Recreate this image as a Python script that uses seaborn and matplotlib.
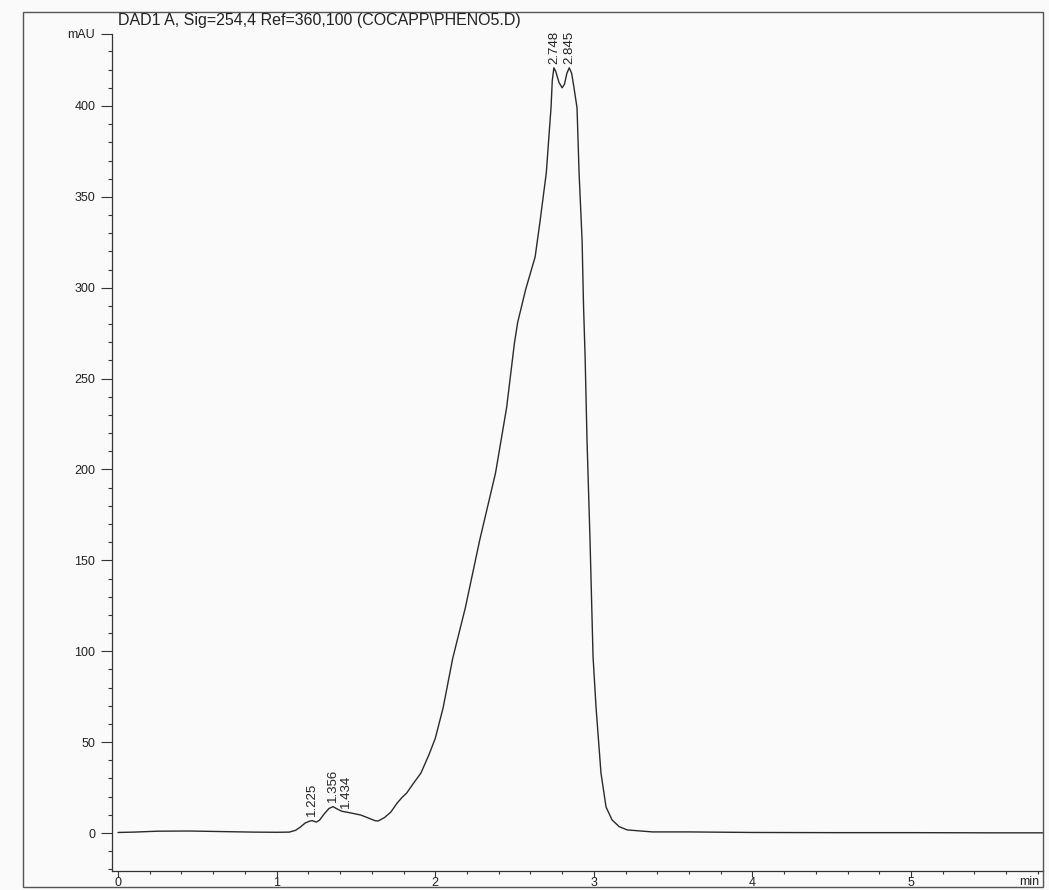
import numpy as np
import matplotlib
matplotlib.use("Agg")
import matplotlib.pyplot as plt
from matplotlib.patches import Rectangle
from matplotlib.ticker import MultipleLocator
import seaborn as sns

# ---- data ----
time_min = [0.00, 0.10, 0.25, 0.45, 0.65, 0.85, 1.00, 1.08, 1.12, 1.15, 1.18, 1.21,
            1.225, 1.25, 1.27, 1.30, 1.33, 1.356, 1.38, 1.41, 1.434, 1.47, 1.53, 1.58,
            1.62, 1.64, 1.68, 1.72, 1.76, 1.79, 1.82, 1.86, 1.91, 1.96, 2.00, 2.05,
            2.11, 2.19, 2.28, 2.38, 2.45, 2.50, 2.52, 2.57, 2.63, 2.66, 2.70, 2.73,
            2.738, 2.748, 2.76, 2.78, 2.80, 2.815, 2.83, 2.845, 2.86, 2.875, 2.894,
            2.907, 2.926, 2.935, 2.945, 2.957, 2.976, 2.995, 3.014, 3.045, 3.077,
            3.115, 3.16, 3.21, 3.37, 3.60, 4.00, 4.50, 5.00, 5.50, 5.83]
signal_mau = [0.3, 0.5, 1.0, 1.1, 0.8, 0.5, 0.4, 0.5, 1.5, 3.3, 5.5, 6.6,
              6.8, 6.0, 7.0, 10.5, 13.5, 14.5, 13.3, 12.0, 11.6, 11.0, 9.9, 8.2,
              6.8, 6.6, 8.5, 11.5, 16.5, 19.5, 22.0, 27.0, 33.0, 43.0, 52.0, 69.0,
              96.0, 124.0, 161.0, 198.0, 234.0, 270.0, 281.0, 299.0, 317.0, 336.0, 363.0, 399.0,
              414.0, 421.0, 419.0, 413.0, 410.0, 412.0, 418.0, 421.0, 418.0, 410.0, 399.0,
              363.0, 326.0, 290.0, 262.0, 216.0, 161.0, 97.0, 69.0, 33.0, 14.3,
              7.2, 3.5, 1.7, 0.6, 0.6, 0.3, 0.2, 0.2, 0.1, 0.1]

peak_times = [1.225, 1.356, 1.434, 2.748, 2.845]
peak_labels = ["1.225", "1.356", "1.434", "2.748", "2.845"]

y_tick_values = [0, 50, 100, 150, 200, 250, 300, 350, 400]
x_tick_values = [0, 1, 2, 3, 4, 5]
title_text = "DAD1 A, Sig=254,4 Ref=360,100 (COCAPP\\PHENO5.D)"

# ---- figure ----
sns.set_style("ticks")
plt.rcParams["font.family"] = ["Liberation Sans", "DejaVu Sans"]

W, H = 1049, 890
fig = plt.figure(figsize=(W / 100, H / 100), dpi=100)
bg = "#fafafa"
fig.patch.set_facecolor(bg)

ax = fig.add_axes([112 / W, 1 - 871 / H, (1043 - 112) / W, (871 - 34) / H])
ax.set_facecolor(bg)

line_color = "#2a2a2a"
sns.lineplot(x=time_min, y=signal_mau, ax=ax, color=line_color, linewidth=1.0,
             estimator=None, sort=False)

ylim_top = 439.6
ax.set_xlim(-0.038, 5.832)
ax.set_ylim(-20.9, ylim_top)

ax.set_yticks(y_tick_values + [ylim_top])
ax.set_yticklabels([str(v) for v in y_tick_values] + ["mAU"])
ax.yaxis.set_minor_locator(MultipleLocator(10))
ax.set_xticks(x_tick_values)
ax.set_xticklabels([str(v) for v in x_tick_values])
ax.xaxis.set_minor_locator(MultipleLocator(0.2))

ax.tick_params(axis="y", which="major", length=8, width=0.8, labelsize=9, pad=4,
               colors="#333333", labelcolor="#222222")
ax.tick_params(axis="y", which="minor", length=3, width=0.8, colors="#333333")
ax.tick_params(axis="x", which="major", length=4, width=0.8, labelsize=9, pad=0.5,
               colors="#333333", labelcolor="#222222")
ax.tick_params(axis="x", which="minor", length=2.5, width=0.8, colors="#333333")

for s in ["top", "right"]:
    ax.spines[s].set_visible(False)
for s in ["left", "bottom"]:
    ax.spines[s].set_color("#333333")
    ax.spines[s].set_linewidth(0.9)
ax.set_xlabel("")
ax.set_ylabel("")

ax.annotate("min", xy=(1.0, 0.0), xycoords="axes fraction", xytext=(-3, -3.4),
            textcoords="offset points", ha="right", va="top", fontsize=9, color="#222222")

# peak retention-time labels
for pt, lab in zip(peak_times, peak_labels):
    yv = float(np.interp(pt, time_min, signal_mau))
    ax.annotate(lab, xy=(pt, yv), xytext=(0, 3), textcoords="offset points",
                rotation=90, ha="center", va="bottom", fontsize=9.5,
                family=["Liberation Sans Narrow", "Liberation Sans", "DejaVu Sans"],
                color="#222222")

# title
fig.text(118 / W, 1 - 20 / H, title_text, ha="left", va="center", fontsize=11.5, color="#222222")

# outer frame
fig.patches.append(Rectangle((23 / W, 1 - 887 / H), (1043 - 23) / W, (887 - 12) / H,
                             transform=fig.transFigure, fill=False,
                             edgecolor="#555555", linewidth=1.0))

fig.savefig("out.png", dpi=100, facecolor=bg)
